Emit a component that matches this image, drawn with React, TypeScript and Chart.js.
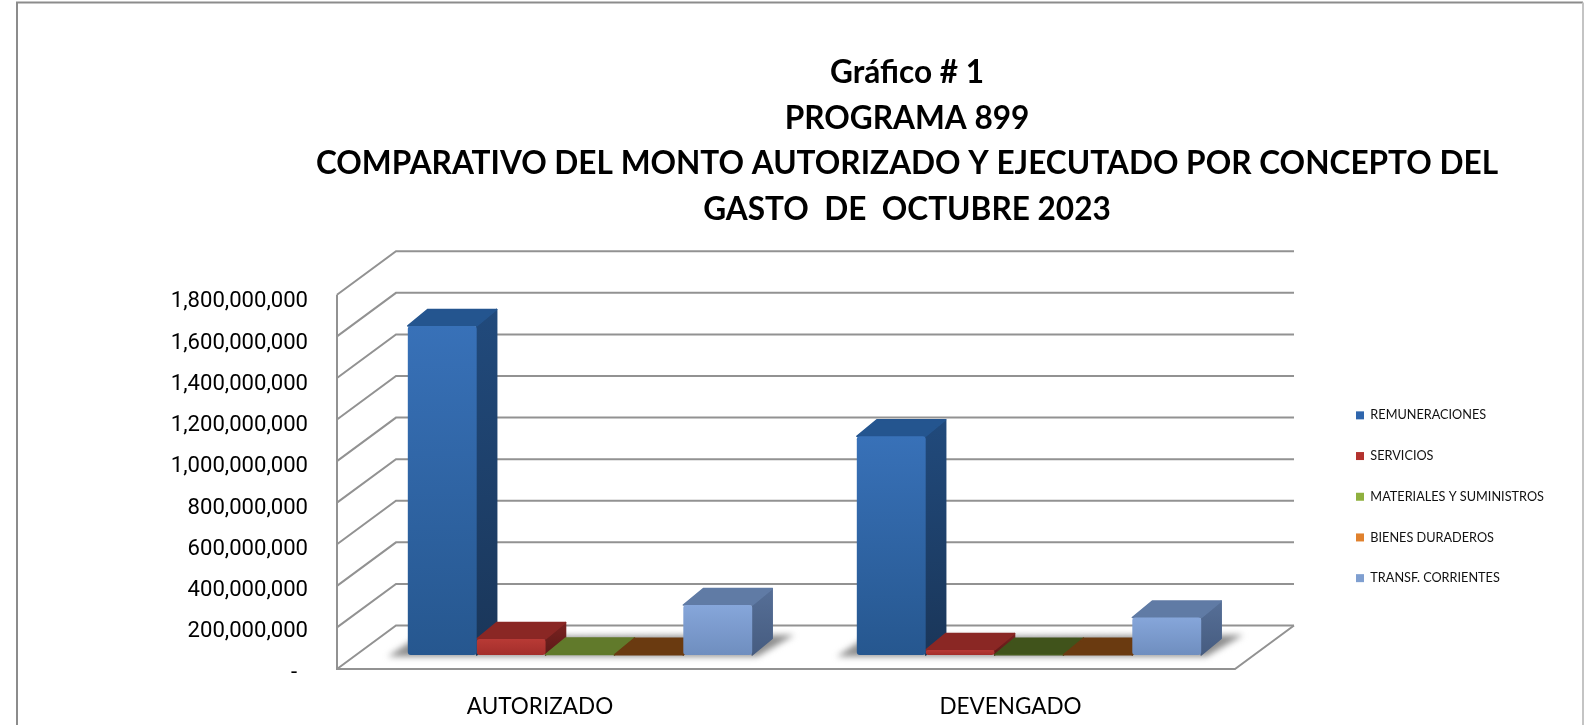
import React, { useEffect, useRef } from "react";
import { Chart, registerables } from "chart.js";

Chart.register(...registerables);

const FONT = "Lato";
const NUM_FONT = "Roboto";
const titleLines = [
  "Gráfico # 1",
  "PROGRAMA 899",
  "COMPARATIVO DEL MONTO AUTORIZADO Y EJECUTADO POR CONCEPTO DEL",
  "GASTO  DE  OCTUBRE 2023",
];
const categories = ["AUTORIZADO", "DEVENGADO"];
const remuneraciones = [1583000000, 1052000000];
const servicios = [77000000, 24000000];
const materiales = [2000000, 1000000];
const bienes = [1000000, 1000000];
const transferencias = [240000000, 180000000];

// colours per series: legend swatch, front top/bottom, side top/bottom, top face per category
const styles = [
  { legend: "#2f66ad", front: ["#3871b8", "#26578f"], side: ["#214a7c", "#1a3659"], top: ["#24558f", "#24558f"] },
  { legend: "#b3322e", front: ["#b83a35", "#a32e2b"], side: ["#7a2220", "#5c1a18"], top: ["#8a2724", "#8a2724"] },
  { legend: "#8fb03e", front: ["#5f7a2a", "#5f7a2a"], side: ["#4c6321", "#4c6321"], top: ["#617a2b", "#40531b"] },
  { legend: "#e0812d", front: ["#6a3a10", "#6a3a10"], side: ["#5a300c", "#5a300c"], top: ["#6a3a10", "#6a3a10"] },
  { legend: "#7f9fd0", front: ["#86a6da", "#6f8ebf"], side: ["#566f97", "#465c80"], top: ["#607ba5", "#607ba5"] },
];

const SHIFT_X = 18.5;
const SHIFT_Y = -14;
const BAR_DX = 20;
const BAR_DY = -16.5;
const WALL_DX = 59;
const WALL_DY = -43.5;
const AXIS_COLOR = "#929292";
const CAT_LABEL_NUDGE = [-21.5, 0];

function face(ctx: CanvasRenderingContext2D, pts: number[][], fill: CanvasGradient | string) {
  ctx.beginPath();
  pts.forEach((p, i) => (i ? ctx.lineTo(p[0], p[1]) : ctx.moveTo(p[0], p[1])));
  ctx.closePath();
  ctx.fillStyle = fill;
  ctx.strokeStyle = fill;
  ctx.lineWidth = 1.5;
  ctx.lineJoin = "round";
  ctx.fill();
  ctx.stroke();
}

const scene3d = {
  id: "scene3d",
  afterLayout(chart: any) {
    const t = chart.titleBlock;
    if (t) {
      t.left = 907 - 780;
      t.right = 907 + 780;
    }
    const l = chart.legend;
    if (l) {
      l.left = 1356 - l.options.labels.padding;
      l.top = 409 - l.options.labels.padding;
      l.right = l.left + 260;
      l.bottom = l.top + 240;
    }
    chart.scales.x.getLabelItems().forEach((item: any, i: number) => {
      item.options.translation[0] += CAT_LABEL_NUDGE[i] || 0;
    });
    const yItems = chart.scales.y.getLabelItems();
    yItems.forEach((item: any, i: number) => {
      item.options.translation[1] += 4 + (3 * i) / Math.max(1, yItems.length - 1);
    });
  },
  beforeDatasetsDraw(chart: any) {
    const { ctx, chartArea: a, scales } = chart;
    const y = scales.y;
    // page frame
    ctx.save();
    ctx.strokeStyle = "#8c8c8c";
    ctx.lineWidth = 2;
    ctx.beginPath();
    ctx.moveTo(17, 725);
    ctx.lineTo(17, 2.5);
    ctx.lineTo(1583, 2.5);
    ctx.stroke();
    ctx.strokeStyle = "#c4c4c4";
    ctx.beginPath();
    ctx.moveTo(1583, 2.5);
    ctx.lineTo(1583, 725);
    ctx.stroke();

    // walls and floor
    ctx.strokeStyle = AXIS_COLOR;
    ctx.lineWidth = 2;
    y.ticks.forEach((tick: any) => {
      const py = y.getPixelForValue(tick.value);
      ctx.beginPath();
      ctx.moveTo(a.left, py);
      ctx.lineTo(a.left + WALL_DX, py + WALL_DY);
      ctx.lineTo(a.right + WALL_DX, py + WALL_DY);
      ctx.stroke();
    });
    ctx.beginPath();
    ctx.moveTo(a.left, a.top);
    ctx.lineTo(a.left, a.bottom);
    ctx.lineTo(a.right, a.bottom);
    ctx.lineTo(a.right + WALL_DX, a.bottom + WALL_DY);
    ctx.stroke();
    ctx.restore();

    // everything from here to afterDatasetsDraw sits on the bar plane
    ctx.save();
    ctx.translate(SHIFT_X, SHIFT_Y);

    const metas = chart.getSortedVisibleDatasetMetas();
    categories.forEach((_, c) => {
      const first = metas[0].data[c];
      const last = metas[metas.length - 1].data[c];
      const l = first.x - first.width / 2;
      const r = last.x + last.width / 2;
      const b = y.getPixelForValue(0);
      ctx.save();
      ctx.filter = "blur(3px)";
      ctx.fillStyle = "#8e8e8e";
      ctx.beginPath();
      ctx.moveTo(l - 20, b + 1.5);
      ctx.lineTo(r + 5, b + 1.5);
      ctx.lineTo(r + BAR_DX + 22, b - 20);
      ctx.lineTo(l + 10, b - 18);
      ctx.closePath();
      ctx.fill();
      ctx.restore();

      metas.forEach((meta: any, s: number) => {
        const el = meta.data[c];
        const x0 = el.x - el.width / 2;
        const x1 = el.x + el.width / 2;
        const st = styles[s];
        const grad = ctx.createLinearGradient(0, el.y + BAR_DY, 0, el.base);
        grad.addColorStop(0, st.side[0]);
        grad.addColorStop(1, st.side[1]);
        face(ctx, [[x1, el.y], [x1 + BAR_DX, el.y + BAR_DY], [x1 + BAR_DX, el.base + BAR_DY], [x1, el.base]], grad);
        face(ctx, [[x0, el.y], [x0 + BAR_DX, el.y + BAR_DY], [x1 + BAR_DX, el.y + BAR_DY], [x1, el.y]], st.top[c]);
      });
    });
  },
  afterDatasetsDraw(chart: any) {
    chart.ctx.restore();
  },
};

function frontFill(s: number) {
  return (c: any) => {
    const st = styles[s];
    if (c.type !== "data" || !c.parsed) return st.legend;
    const y = c.chart.scales.y;
    const p0 = y.getPixelForValue(c.parsed.y);
    const p1 = y.getPixelForValue(0);
    if (!Number.isFinite(p0) || !Number.isFinite(p1)) return st.legend;
    const g = c.chart.ctx.createLinearGradient(0, p0, 0, p1);
    g.addColorStop(0, st.front[0]);
    g.addColorStop(1, st.front[1]);
    return g;
  };
}

const seriesNames = ["REMUNERACIONES", "SERVICIOS", "MATERIALES Y SUMINISTROS", "BIENES DURADEROS", "TRANSF. CORRIENTES"];
const seriesValues = [remuneraciones, servicios, materiales, bienes, transferencias];

export default function App() {
  const ref = useRef<HTMLCanvasElement>(null);
  useEffect(() => {
    const chart = new Chart(ref.current as HTMLCanvasElement, {
      type: "bar",
      plugins: [scene3d],
      data: {
        labels: categories,
        datasets: seriesNames.map((label, s) => ({
          label,
          data: seriesValues[s],
          backgroundColor: frontFill(s),
          borderWidth: 0,
          borderRadius: 3,
          borderSkipped: false,
          barPercentage: 1,
          categoryPercentage: 0.767,
          clip: false,
        })),
      },
      options: {
        animation: false,
        responsive: false,
        layout: { padding: { right: 349, top: 0, left: 0, bottom: 0 } },
        plugins: {
          tooltip: { enabled: false },
          title: {
            display: true,
            text: titleLines,
            color: "#000",
            font: { family: FONT, size: 31.6, weight: "bold", lineHeight: 1.446 },
            padding: { top: 50, bottom: 62 },
          },
          legend: {
            position: "chartArea",
            align: "start",
            labels: {
              boxWidth: 8,
              boxHeight: 8,
              padding: 28,
              color: "#111",
              font: { family: FONT, size: 12.7 },
              generateLabels: (chart: any) =>
                Chart.defaults.plugins.legend.labels.generateLabels(chart).map((item: any, i: number) => ({
                  ...item,
                  fillStyle: styles[i].legend,
                })),
            },
          },
        },
        scales: {
          x: {
            grid: { display: false },
            border: { display: false },
            afterFit: (s: any) => { s.height = 56; },
            ticks: { color: "#000", padding: 16, maxRotation: 0, font: { family: FONT, size: 22.5 } },
          },
          y: {
            min: 0,
            max: 1800000000,
            grid: { display: false },
            border: { display: false },
            afterFit: (s: any) => { s.width = 337; },
            ticks: {
              stepSize: 200000000,
              color: "#000",
              padding: 21,
              font: { family: NUM_FONT, size: 22.1 },
              callback: (v: any) => (v === 0 ? "-  " : Number(v).toLocaleString("en-US")),
            },
          },
        },
      },
    } as any);
    return () => chart.destroy();
  }, []);
  return (
    <div style={{ position: "absolute", left: 0, top: 0, width: 1584, height: 725, overflow: "hidden", background: "#fff" }}>
      <canvas ref={ref} width={1584} height={725} style={{ display: "block", filter: "blur(0.35px)" }} />
    </div>
  );
}
